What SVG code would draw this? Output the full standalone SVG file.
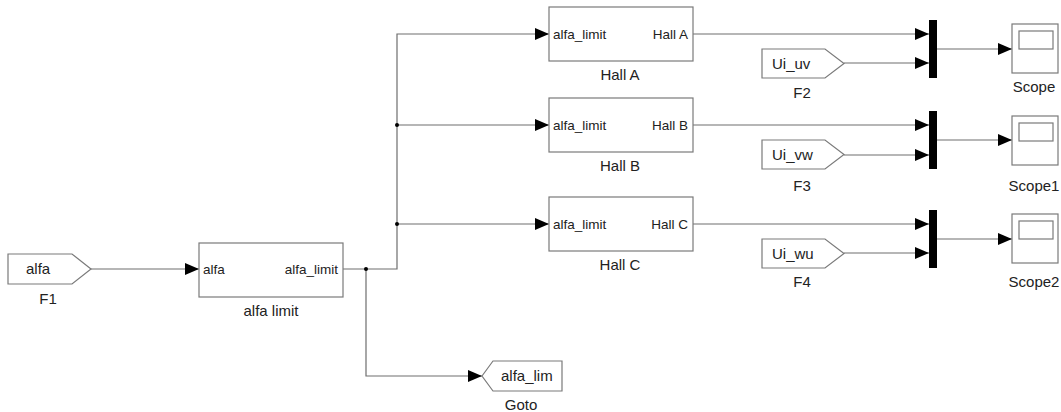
<svg xmlns="http://www.w3.org/2000/svg" width="1061" height="412" viewBox="0 0 1061 412">
<style>
.blk{fill:#fff;stroke:#7a7a7a;stroke-width:1.2}
.ln{fill:none;stroke:#6e6e6e;stroke-width:1.2}
.mux{fill:#000}
.t{font-family:"Liberation Sans",Arial,sans-serif;font-size:13.5px;fill:#222}
.g{font-family:"Liberation Sans",Arial,sans-serif;font-size:15px;fill:#222}
.lb{font-family:"Liberation Sans",Arial,sans-serif;font-size:15px;fill:#222;text-anchor:middle}
.r{text-anchor:end}
</style>
<defs>
<marker id="ah" viewBox="0 0 14 12" refX="14" refY="6" markerWidth="14" markerHeight="12" markerUnits="userSpaceOnUse" orient="auto">
<path d="M0,0 L14,6 L0,12 z" fill="#000"/>
</marker>
</defs>
<rect width="1061" height="412" fill="#fff"/>
<g id="connectors">
<path class="ln" d="M91,269 H199" marker-end="url(#ah)"/>
<path class="ln" d="M343,269 H397 V34 H549" marker-end="url(#ah)"/>
<path class="ln" d="M397,125 H549" marker-end="url(#ah)"/>
<path class="ln" d="M397,224 H549" marker-end="url(#ah)"/>
<path class="ln" d="M366,269 V376 H482" marker-end="url(#ah)"/>
<circle cx="366" cy="269" r="2" fill="#000"/>
<circle cx="397" cy="125" r="2" fill="#000"/>
<circle cx="397" cy="224" r="2" fill="#000"/>
<path class="ln" d="M693,34 H929" marker-end="url(#ah)"/>
<path class="ln" d="M844,63 H929" marker-end="url(#ah)"/>
<path class="ln" d="M937,49 H1012" marker-end="url(#ah)"/>
<path class="ln" d="M693,125 H929" marker-end="url(#ah)"/>
<path class="ln" d="M844,155 H929" marker-end="url(#ah)"/>
<path class="ln" d="M937,140 H1012" marker-end="url(#ah)"/>
<path class="ln" d="M693,224 H929" marker-end="url(#ah)"/>
<path class="ln" d="M844,253 H929" marker-end="url(#ah)"/>
<path class="ln" d="M937,239 H1012" marker-end="url(#ah)"/>
</g>
<g id="F1">
<polygon class="blk" points="8,254 72,254 91,269 72,284 8,284"/>
<text class="g" x="26" y="274">alfa</text>
<text class="lb" x="48" y="304">F1</text>
</g>
<g id="alfa_limit">
<rect class="blk" x="199" y="243" width="144" height="54"/>
<text class="t" x="203" y="274">alfa</text>
<text class="t r" x="338" y="274">alfa_limit</text>
<text class="lb" x="271" y="316">alfa limit</text>
</g>
<g id="HallA">
<rect class="blk" x="549" y="7" width="144" height="54"/>
<text class="t" x="553" y="39">alfa_limit</text>
<text class="t r" x="688" y="39">Hall A</text>
<text class="lb" x="620" y="80">Hall A</text>
</g>
<g id="HallB">
<rect class="blk" x="549" y="98" width="144" height="54"/>
<text class="t" x="553" y="130">alfa_limit</text>
<text class="t r" x="688" y="130">Hall B</text>
<text class="lb" x="620" y="171">Hall B</text>
</g>
<g id="HallC">
<rect class="blk" x="549" y="197" width="144" height="54"/>
<text class="t" x="553" y="229">alfa_limit</text>
<text class="t r" x="688" y="229">Hall C</text>
<text class="lb" x="620" y="270">Hall C</text>
</g>
<g id="Goto">
<polygon class="blk" points="482,376 493,361 562,361 562,391 493,391"/>
<text class="g" x="501" y="381">alfa_lim</text>
<text class="lb" x="521" y="410">Goto</text>
</g>
<g id="F2">
<polygon class="blk" points="762,49 825,49 844,63.5 825,78 762,78"/>
<text class="g" x="772" y="69">Ui_uv</text>
<text class="lb" x="802" y="98">F2</text>
</g>
<g id="F3">
<polygon class="blk" points="762,140 825,140 844,154.5 825,169 762,169"/>
<text class="g" x="772" y="160">Ui_vw</text>
<text class="lb" x="802" y="191">F3</text>
</g>
<g id="F4">
<polygon class="blk" points="762,239 825,239 844,253.5 825,268 762,268"/>
<text class="g" x="772" y="259">Ui_wu</text>
<text class="lb" x="802" y="287">F4</text>
</g>
<g id="Mux1"><rect class="mux" x="929" y="20" width="8" height="58"/></g>
<g id="Mux2"><rect class="mux" x="929" y="111" width="8" height="58"/></g>
<g id="Mux3"><rect class="mux" x="929" y="210" width="8" height="58"/></g>
<g id="Scope">
<rect class="blk" x="1012" y="24" width="46" height="49"/>
<rect class="blk" x="1019" y="31" width="34" height="18"/>
<text class="lb" x="1034" y="92">Scope</text>
</g>
<g id="Scope1">
<rect class="blk" x="1012" y="116" width="46" height="49"/>
<rect class="blk" x="1019" y="123" width="34" height="18"/>
<text class="lb" x="1034" y="191">Scope1</text>
</g>
<g id="Scope2">
<rect class="blk" x="1012" y="214" width="46" height="49"/>
<rect class="blk" x="1019" y="221" width="34" height="18"/>
<text class="lb" x="1034" y="287">Scope2</text>
</g>
</svg>
